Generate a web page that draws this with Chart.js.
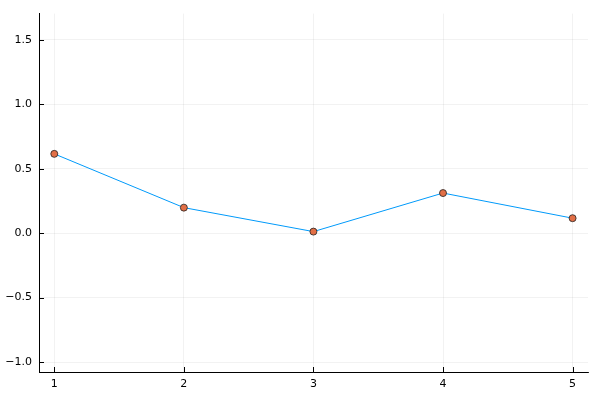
<!DOCTYPE html>
<html>
<head>
<meta charset="utf-8">
<script src="https://cdn.jsdelivr.net/npm/chart.js@4.4.1/dist/chart.umd.min.js"></script>
<style>
  html, body { margin: 0; padding: 0; background: #fff; }
  #wrap { width: 600px; height: 400px; }
</style>
</head>
<body>
<div id="wrap"><canvas id="chart"></canvas></div>
<script>
// data
const xValues = [1, 2, 3, 4, 5];
const yValues = [0.615, 0.198, 0.012, 0.311, 0.116];
const xTicks = [1, 2, 3, 4, 5];
const yTicks = [-1.0, -0.5, 0.0, 0.5, 1.0, 1.5];

const fmtY = v => v.toFixed(1).replace('-', '\u2212');

// ticks pointing into the plot area, like the reference
const innerTicks = {
  id: 'innerTicks',
  afterDraw(chart) {
    const ctx = chart.ctx;
    const area = chart.chartArea;
    const xs = chart.scales.x, ys = chart.scales.y;
    ctx.save();
    ctx.strokeStyle = '#000';
    ctx.lineWidth = 1;
    ctx.beginPath();
    yTicks.forEach(t => {
      const y = Math.round(ys.getPixelForValue(t)) + 0.5;
      ctx.moveTo(area.left, y);
      ctx.lineTo(area.left + 5, y);
    });
    xTicks.forEach(t => {
      const x = Math.round(xs.getPixelForValue(t)) + 0.5;
      ctx.moveTo(x, area.bottom);
      ctx.lineTo(x, area.bottom - 5);
    });
    ctx.stroke();
    ctx.restore();
  }
};

new Chart(document.getElementById('chart'), {
  type: 'line',
  data: {
    datasets: [{
      data: xValues.map((x, i) => ({ x: x, y: yValues[i] })),
      borderColor: '#009afa',
      borderWidth: 1,
      pointBackgroundColor: '#e26f46',
      pointBorderColor: '#222',
      pointBorderWidth: 0.8,
      pointRadius: 3.5,
      tension: 0
    }]
  },
  options: {
    responsive: true,
    maintainAspectRatio: false,
    animation: false,
    layout: { padding: { left: 0, top: 12, right: 12, bottom: 0 } },
    plugins: { legend: { display: false }, tooltip: { enabled: false } },
    scales: {
      x: {
        type: 'linear',
        min: 0.882,
        max: 5.119,
        afterBuildTicks: s => { s.ticks = xTicks.map(v => ({ value: v })); },
        afterFit: s => { s.height = 28; },
        grid: { color: 'rgba(0,0,0,0.08)', lineWidth: 0.7, drawTicks: false },
        border: { display: true, color: '#000', width: 1 },
        ticks: { padding: 6, color: '#000', font: { family: 'DejaVu Sans', size: 11 }, callback: v => String(v), maxRotation: 0 }
      },
      y: {
        type: 'linear',
        min: -1.077,
        max: 1.703,
        afterBuildTicks: s => { s.ticks = yTicks.map(v => ({ value: v })); },
        afterFit: s => { s.width = 39; },
        grid: { color: 'rgba(0,0,0,0.08)', lineWidth: 0.7, drawTicks: false },
        border: { display: true, color: '#000', width: 1 },
        ticks: { padding: 7, color: '#000', font: { family: 'DejaVu Sans', size: 11 }, callback: v => fmtY(v) }
      }
    }
  },
  plugins: [innerTicks]
});
</script>
</body>
</html>
